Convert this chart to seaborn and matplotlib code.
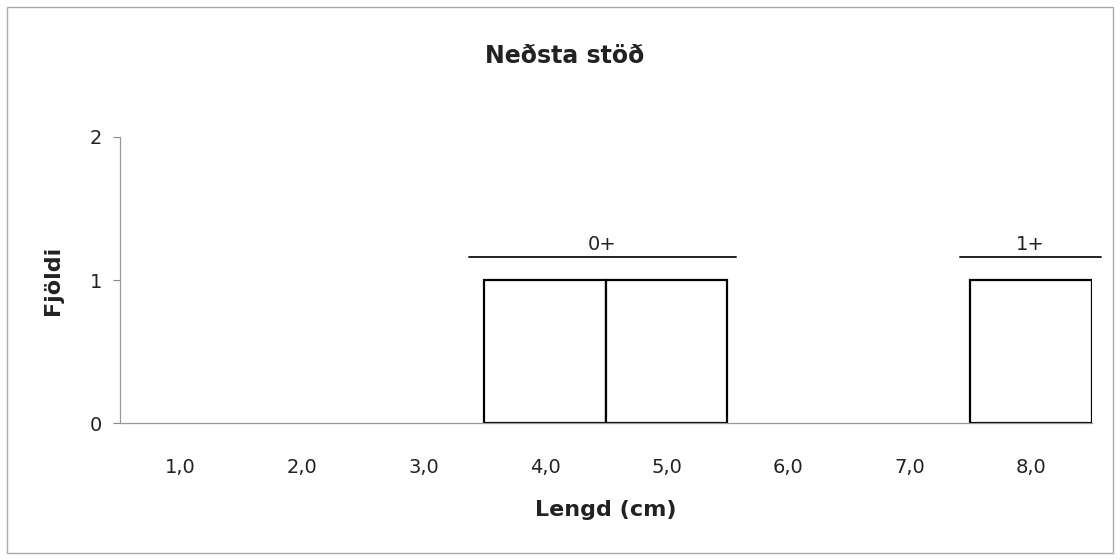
import matplotlib
matplotlib.use("Agg")
import matplotlib.pyplot as plt
import seaborn as sns
import pandas as pd
from matplotlib.patches import Rectangle

sns.set_style("white")
plt.rcParams['font.family'] = ['DejaVu Sans']

# data
lengths = ['1,0', '2,0', '3,0', '4,0', '5,0', '6,0', '7,0', '8,0']
counts = [0, 0, 0, 1, 1, 0, 0, 1]
y_ticks = [0, 1, 2]

# age groups and where their bracket lines start / end
groups = ['0+', '1+']
group_start = [2.37, 6.41]
group_end = [4.57, 7.57]
group_line_y = 1.16
group_text_y = 1.185

df = pd.DataFrame({'Lengd': lengths, 'Fjoldi': counts})

fig = plt.figure(figsize=(11.2, 5.6), dpi=100)
ax = fig.add_axes([0.107, 0.2446, 0.868, 0.5108])

sns.barplot(data=df, x='Lengd', y='Fjoldi', ax=ax, width=1.0,
            color='white', edgecolor='black', linewidth=1.6, saturation=1)

# empty bars get no outline
for p in ax.patches:
    if p.get_height() == 0:
        p.set_linewidth(0)

ax.set_xlim(-0.5, len(lengths) - 0.5)
ax.set_ylim(0, 2)
ax.set_yticks(y_ticks)
ax.set_yticklabels([str(v) for v in y_ticks])

# ticks between the categories, labels in the middle
ax.set_xticks(range(len(lengths)))
ax.set_xticklabels(lengths)
ax.set_xticks([i - 0.5 for i in range(len(lengths) + 1)], minor=True)
ax.tick_params(axis='x', which='major', length=0, pad=25, labelsize=14, colors='#222222')
ax.tick_params(axis='x', which='minor', length=5, width=0.8, color='#888888', direction='out')
ax.tick_params(axis='y', which='major', length=5, width=0.8, color='#888888', pad=8,
               labelsize=14, labelcolor='#222222', left=True, direction='out')

for s in ['top', 'right']:
    ax.spines[s].set_visible(False)
for s in ['left', 'bottom']:
    ax.spines[s].set_color('#999999')
    ax.spines[s].set_linewidth(0.9)

for g, x0, x1 in zip(groups, group_start, group_end):
    ax.plot([x0, x1], [group_line_y, group_line_y], color='#222222', lw=1.4, clip_on=False)
    ax.text((x0 + x1) / 2, group_text_y, g, ha='center', va='bottom', fontsize=14,
            color='#222222')

ax.set_xlabel('Lengd (cm)', fontsize=16, fontweight='bold', labelpad=17, color='#222222')
ax.set_ylabel('Fjöldi', fontsize=16, fontweight='bold', labelpad=19, color='#222222')
fig.text(0.504, 0.9, 'Neðsta stöð', ha='center', va='center', fontsize=17,
         fontweight='bold', color='#222222')

# thin frame round the figure
fig.patches.append(Rectangle((0.006, 0.012), 0.988, 0.976, transform=fig.transFigure,
                             fill=False, edgecolor='#aaaaaa', lw=1.0))

fig.savefig('out.png', dpi=100)
